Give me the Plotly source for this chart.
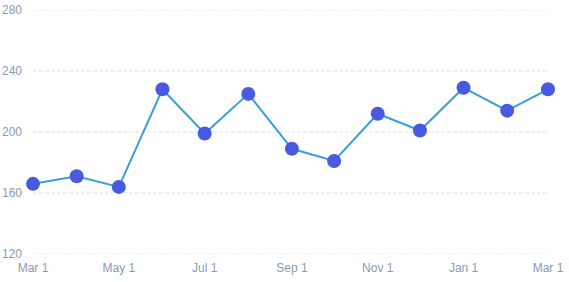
import plotly.graph_objects as go

dates = ["2023-03-01", "2023-04-01", "2023-05-01", "2023-06-01", "2023-07-01",
         "2023-08-01", "2023-09-01", "2023-10-01", "2023-11-01", "2023-12-01",
         "2024-01-01", "2024-02-01", "2024-03-01"]
values = [166, 171, 164, 228, 199, 225, 189, 181, 212, 201, 229, 214, 228]
tick_dates = ["2023-03-01", "2023-05-01", "2023-07-01", "2023-09-01",
              "2023-11-01", "2024-01-01", "2024-03-01"]
tick_labels = ["Mar 1", "May 1", "Jul 1", "Sep 1", "Nov 1", "Jan 1", "Mar 1"]
y_ticks = [120, 160, 200, 240, 280]

fig = go.Figure(go.Scatter(
    x=dates, y=values, mode="lines+markers",
    line=dict(color="#38a0d8", width=2),
    marker=dict(color="#4a5ae0", size=14),
    cliponaxis=False,
))

for yv in y_ticks:
    fig.add_shape(type="line", xref="paper", yref="y", x0=0, x1=1, y0=yv, y1=yv,
                  line=dict(color="#dfe3e8", width=1, dash="4px,2px"), layer="below")

fig.update_layout(
    width=569, height=282,
    margin=dict(l=33, r=21, t=10, b=28),
    paper_bgcolor="white", plot_bgcolor="white",
    showlegend=False,
    font=dict(family="Liberation Sans, Arial, sans-serif", size=12, color="#8a9bb0"),
    xaxis=dict(
        range=["2023-03-01", "2024-03-01"],
        tickvals=tick_dates, ticktext=tick_labels,
        showgrid=False, zeroline=False, showline=False,
        ticks="", ticklabelstandoff=5, automargin=False,
    ),
    yaxis=dict(
        range=[120, 280], tickvals=y_ticks,
        showgrid=False, zeroline=False, showline=False, ticks="",
        ticklabelstandoff=10, automargin=False,
    ),
)

fig.write_html("out.html")
